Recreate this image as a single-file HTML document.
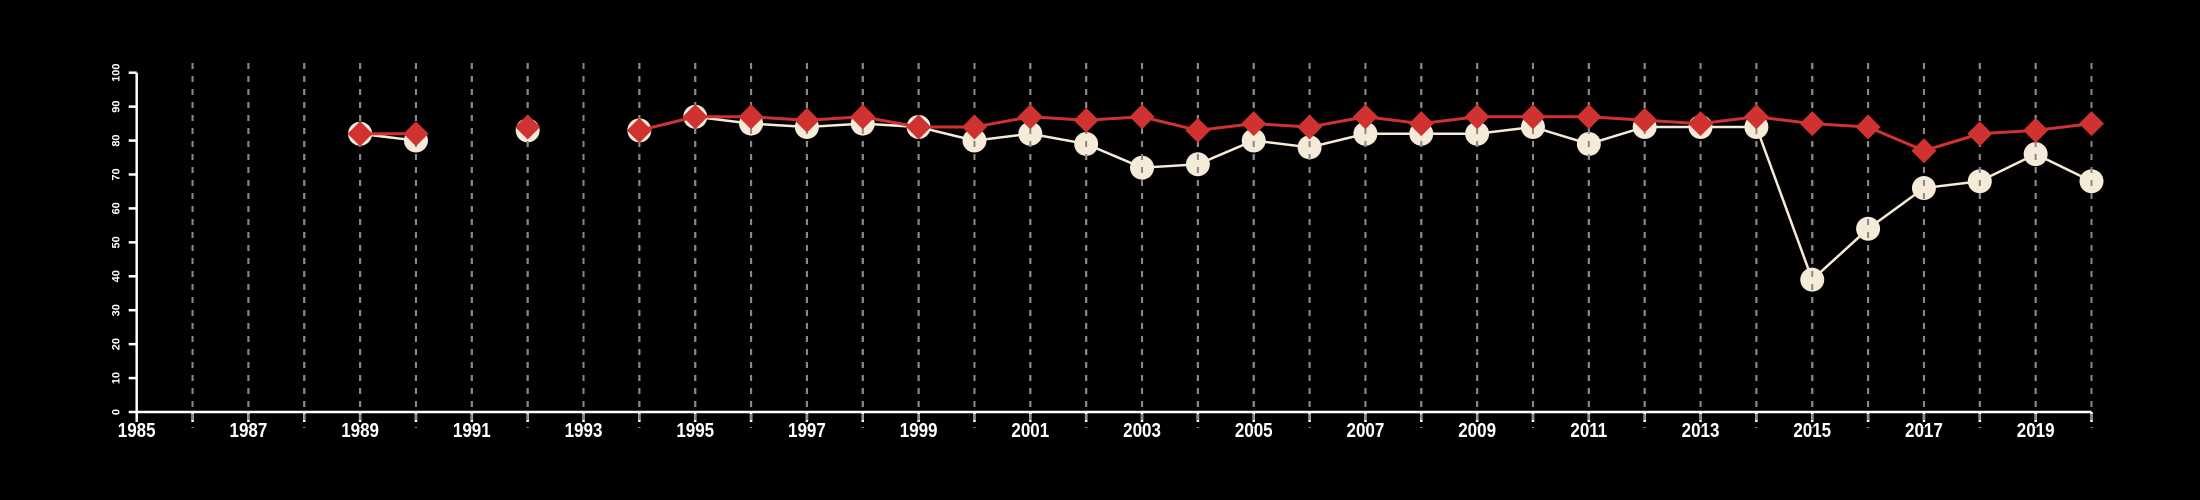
<!DOCTYPE html>
<html><head><meta charset="utf-8"><style>
html,body{margin:0;padding:0;background:#000;}
svg{display:block;}
text{font-family:"Liberation Sans",sans-serif;fill:#fff;}
</style></head><body>
<svg id="chart" width="2200" height="500" viewBox="0 0 2200 500" xmlns="http://www.w3.org/2000/svg">
<g id="grid"></g>
<g id="axes"></g>
<g id="series"></g>
</svg>
<script>
const years = [1989,1990,1991,1992,1993,1994,1995,1996,1997,1998,1999,2000,2001,2002,2003,2004,2005,2006,2007,2008,2009,2010,2011,2012,2013,2014,2015,2016,2017,2018,2019,2020];
const whiteValues = [82,80,null,83,null,83,87,85,84,85,84,80,82,79,72,73,80,78,82,82,82,84,79,84,84,84,39,54,66,68,76,68];
const redValues = [82,82,null,84,null,83,87,87,86,87,84,84,87,86,87,83,85,84,87,85,87,87,87,86,85,87,85,84,77,82,83,85];
const yTicks = [0,10,20,30,40,50,60,70,80,90,100];
const xLabels = [1985,1987,1989,1991,1993,1995,1997,1999,2001,2003,2005,2007,2009,2011,2013,2015,2017,2019];

const NS = "http://www.w3.org/2000/svg";
const X0 = 136.7, X1 = 2091.5, Y0 = 412, Y1 = 72.7;
function xs(v){ return X0 + (v-1985)/(2020-1985)*(X1-X0); }
function ys(v){ return Y0 - v/100*(Y0-Y1); }
function mk(tag, attrs, parent){
  const e = document.createElementNS(NS, tag);
  for (const k in attrs) e.setAttribute(k, attrs[k]);
  parent.appendChild(e);
  return e;
}
const grid = document.getElementById('grid');
const axes = document.getElementById('axes');
const series = document.getElementById('series');

// axes
const yax = mk('line',{x1:X0,y1:Y0,x2:X0,y2:Y1,stroke:'#fff','stroke-width':2.5},axes);


const xax = mk('line',{x1:X0,y1:Y0,x2:X1,y2:Y0,stroke:'#fff','stroke-width':2.5},axes);


yTicks.forEach(t=>{
  const tk = mk('line',{x1:X0-8,y1:ys(t),x2:X0,y2:ys(t),stroke:'#fff','stroke-width':2.5},axes);
  
  
  const tx = mk('text',{x:0,y:0,'font-size':11,'font-weight':'bold','text-anchor':'middle',transform:`translate(${X0-17},${ys(t)}) rotate(-90)`},axes);
  
  
  tx.textContent = t;
});
for (let yr=1985; yr<=2020; yr++){
  const x = xs(yr);
  const tk = mk('line',{x1:x,y1:Y0,x2:x,y2:Y0+10,stroke:'#fff','stroke-width':2.5},axes);
  
  
  if (yr>1985){
    const g = mk('line',{x1:x,y1:63,x2:x,y2:428,stroke:'#999','stroke-width':2,'stroke-dasharray':'6,7'},grid);
    
    
  }
}
xLabels.forEach(l=>{
  const tx = mk('text',{x:xs(l),y:Y0+25,'font-size':20,'font-weight':'bold','text-anchor':'middle',transform:`translate(${xs(l)},0) scale(0.85,1) translate(${-xs(l)},0)`},axes);
  
  
  tx.textContent = l;
});

function segs(vals){
  const out=[]; let cur=[];
  vals.forEach((v,i)=>{ if(v===null){ if(cur.length) out.push(cur); cur=[]; } else cur.push([xs(years[i]),ys(v)]); });
  if(cur.length) out.push(cur);
  return out;
}
// white series
segs(whiteValues).forEach(s=>{
  if(s.length<2) return;
  const p = mk('polyline',{points:s.map(q=>q.join(',')).join(' '),fill:'none',stroke:'#f6ead8','stroke-width':2.5},series);
  
  
});
whiteValues.forEach((v,i)=>{
  if(v===null) return;
  const c = mk('circle',{cx:xs(years[i]),cy:ys(v),r:12,fill:'#f6ead8'},series);
  
  
});
// gridlines overlay on circles
const gl2 = mk('g',{},series);
for (let yr=1986; yr<=2020; yr++){
  const g = mk('line',{x1:xs(yr),y1:63,x2:xs(yr),y2:428,stroke:'#888','stroke-width':2,'stroke-dasharray':'6,7'},gl2);
  
  
}
// red series
segs(redValues).forEach(s=>{
  if(s.length<2) return;
  const p = mk('polyline',{points:s.map(q=>q.join(',')).join(' '),fill:'none',stroke:'#d03232','stroke-width':3},series);
  
  
});
redValues.forEach((v,i)=>{
  if(v===null) return;
  const x=xs(years[i]), y=ys(v), h=12.5;
  const d = mk('polygon',{points:`${x},${y-h} ${x+h},${y} ${x},${y+h} ${x-h},${y}`,fill:'#d03232'},series);
  
  
});
</script>
</body></html>
